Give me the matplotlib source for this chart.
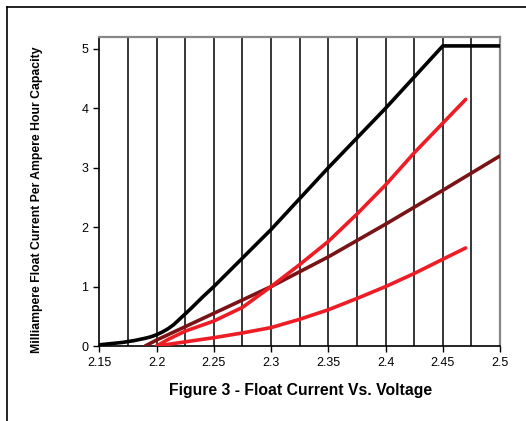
import matplotlib
matplotlib.use("Agg")
import matplotlib.pyplot as plt
from matplotlib.lines import Line2D
import numpy as np

plt.rcParams['font.family'] = ['Liberation Sans', 'DejaVu Sans']

# values (volts per cell -> mA per Ah)
black_v = [2.15, 2.16, 2.17, 2.175, 2.18, 2.185, 2.19, 2.195, 2.2, 2.205, 2.21, 2.215,
           2.22, 2.225, 2.23, 2.24, 2.25, 2.275, 2.3, 2.35, 2.4, 2.45, 2.5]
black_i = [0.02, 0.04, 0.06, 0.075, 0.09, 0.11, 0.13, 0.155, 0.19, 0.235, 0.29, 0.36,
           0.45, 0.54, 0.63, 0.82, 1.0, 1.48, 1.96, 3.0, 4.0, 5.05, 5.05]

dark_v = [2.19, 2.2, 2.25, 2.3, 2.35, 2.4, 2.45, 2.5]
dark_i = [0.0, 0.1, 0.55, 1.0, 1.5, 2.05, 2.62, 3.2]

upper_v = [2.2, 2.21, 2.225, 2.25, 2.275, 2.3, 2.325, 2.35, 2.375, 2.4, 2.425, 2.45, 2.47]
upper_i = [0.0, 0.11, 0.25, 0.42, 0.65, 1.0, 1.37, 1.76, 2.22, 2.71, 3.25, 3.75, 4.15]

lower_v = [2.2, 2.225, 2.25, 2.275, 2.3, 2.325, 2.35, 2.375, 2.4, 2.425, 2.45, 2.47]
lower_i = [0.0, 0.07, 0.14, 0.22, 0.31, 0.45, 0.61, 0.8, 1.0, 1.22, 1.46, 1.65]

x_ticks = [2.15, 2.2, 2.25, 2.3, 2.35, 2.4, 2.45, 2.5]
x_tick_labels = ["2.15", "2.2", "2.25", "2.3", "2.35", "2.4", "2.45", "2.5"]
y_ticks = [0, 1, 2, 3, 4, 5]

fig = plt.figure(figsize=(5.26, 4.21), dpi=100)
ax = fig.add_axes([0.1888, 0.1781, 0.7618, 0.734])

# vertical grid every 0.025
for gx in np.arange(2.175, 2.49, 0.025):
    ax.axvline(gx, color='black', lw=1.1, zorder=1)

ax.plot(black_v, black_i, color='black', lw=2.6, zorder=3, solid_capstyle='round')
ax.plot(dark_v, dark_i, color='#7a1315', lw=2.6, zorder=3, solid_capstyle='round')
ax.plot(upper_v, upper_i, color='#ee1c25', lw=2.6, zorder=4, solid_capstyle='round')
ax.plot(lower_v, lower_i, color='#ee1c25', lw=2.6, zorder=4, solid_capstyle='round')

ax.set_xlim(2.15, 2.5)
ax.set_ylim(0, 5.2)
ax.set_xticks(x_ticks)
ax.set_xticklabels(x_tick_labels)
ax.set_yticks(y_ticks)
ax.tick_params(axis='both', labelsize=9, direction='out', length=4.5, width=1, pad=3.5)

for side in ['top', 'right']:
    ax.spines[side].set_color('#888888')
    ax.spines[side].set_linewidth(1.6)
for side in ['left', 'bottom']:
    ax.spines[side].set_color('black')
    ax.spines[side].set_linewidth(1.2)

fig.text(37/526, 1 - 200/421, "Milliampere Float Current Per Ampere Hour Capacity",
         fontsize=8.8, fontweight='bold', rotation=90, ha='center', va='center')
fig.text(301/526, 1 - 390/421, "Figure 3 - Float Current Vs. Voltage",
         fontsize=11.3, fontweight='bold', ha='center', va='center')

# outer frame (top and left only)
fig.add_artist(Line2D([7/526, 7/526], [0, 1 - 7/421], color='black', lw=1.2,
                      transform=fig.transFigure))
fig.add_artist(Line2D([7/526, 1], [1 - 7/421, 1 - 7/421], color='black', lw=1.2,
                      transform=fig.transFigure))

fig.savefig("out.png", dpi=100)
